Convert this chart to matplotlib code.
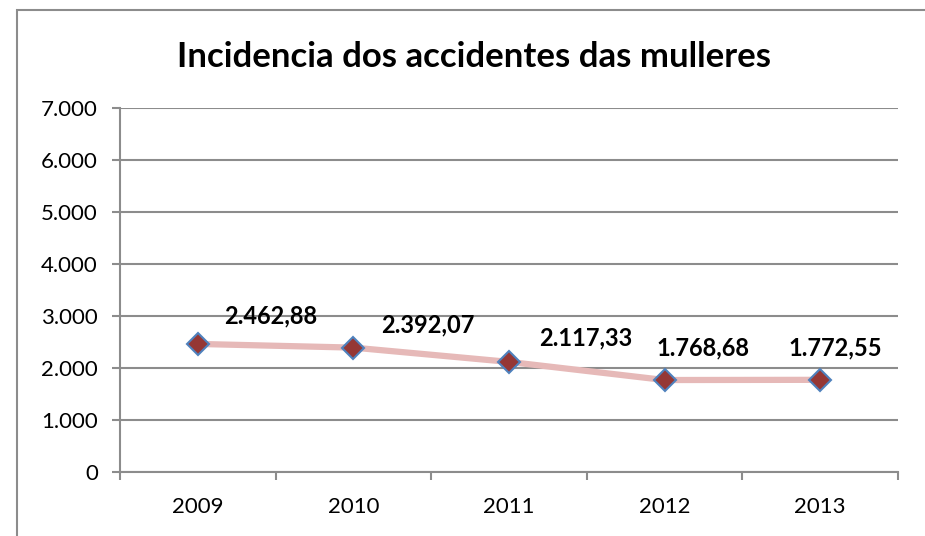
import matplotlib.pyplot as plt
from matplotlib.patches import Rectangle

plt.rcParams['font.family'] = ['Lato', 'DejaVu Sans']

# Datos
anos = ['2009', '2010', '2011', '2012', '2013']
incidencia = [2462.88, 2392.07, 2117.33, 1768.68, 1772.55]
etiquetas = ['2.462,88', '2.392,07', '2.117,33', '1.768,68', '1.772,55']
y_ticks = [0, 1000, 2000, 3000, 4000, 5000, 6000, 7000]
y_labels = ['0', '1.000', '2.000', '3.000', '4.000', '5.000', '6.000', '7.000']

# desprazamento das etiquetas (pixels)
offsets = [(73, 28), (74, 23), (77, 24), (38, 32), (15, 32)]

fig = plt.figure(figsize=(9.25, 5.36), dpi=100)
ax = fig.add_axes([120 / 925, 1 - 472 / 536, 778 / 925, 364 / 536])

# marco exterior
fig.patches.append(Rectangle((17 / 925, -0.1), 1.2, 1 - 10 / 536 + 0.1,
                             transform=fig.transFigure, fill=False,
                             edgecolor='#8c8c8c', linewidth=1.5))

x = list(range(len(anos)))
ax.plot(x, incidencia, color='#e6b9b8', linewidth=4.5, zorder=3)
ax.plot(x, incidencia, linestyle='none', marker='D', markersize=11,
        markerfacecolor='#953735', markeredgecolor='#4f81bd',
        markeredgewidth=1.5, zorder=4)

for xi, yi, txt, (dx, dy) in zip(x, incidencia, etiquetas, offsets):
    ax.annotate(txt, (xi, yi), xytext=(dx, dy), textcoords='offset pixels',
                ha='center', va='center', fontsize=17, fontweight='bold',
                color='black', zorder=5)

ax.set_xlim(-0.5, 4.5)
ax.set_ylim(0, 7000)
ax.set_yticks(y_ticks)
ax.set_yticklabels(y_labels, fontsize=16)
ax.set_xticks(x)
ax.set_xticklabels(anos, fontsize=16)
ax.set_xticks([i - 0.5 for i in range(len(anos) + 1)], minor=True)
ax.tick_params(axis='x', which='major', length=0, pad=18)
ax.tick_params(axis='x', which='minor', length=6, width=1.5, color='#8c8c8c',
               direction='out')
ax.tick_params(axis='y', length=6, width=1.5, color='#8c8c8c', pad=10)

ax.grid(axis='y', color='#8c8c8c', linewidth=1.5)
ax.set_axisbelow(True)
for s in ['top', 'right']:
    ax.spines[s].set_visible(False)
for s in ['left', 'bottom']:
    ax.spines[s].set_color('#8c8c8c')
    ax.spines[s].set_linewidth(1.5)

fig.text(474 / 925, 1 - 57 / 536, 'Incidencia dos accidentes das mulleres',
         ha='center', va='center', fontsize=25, fontweight='bold')

fig.savefig('out.png', dpi=100)
